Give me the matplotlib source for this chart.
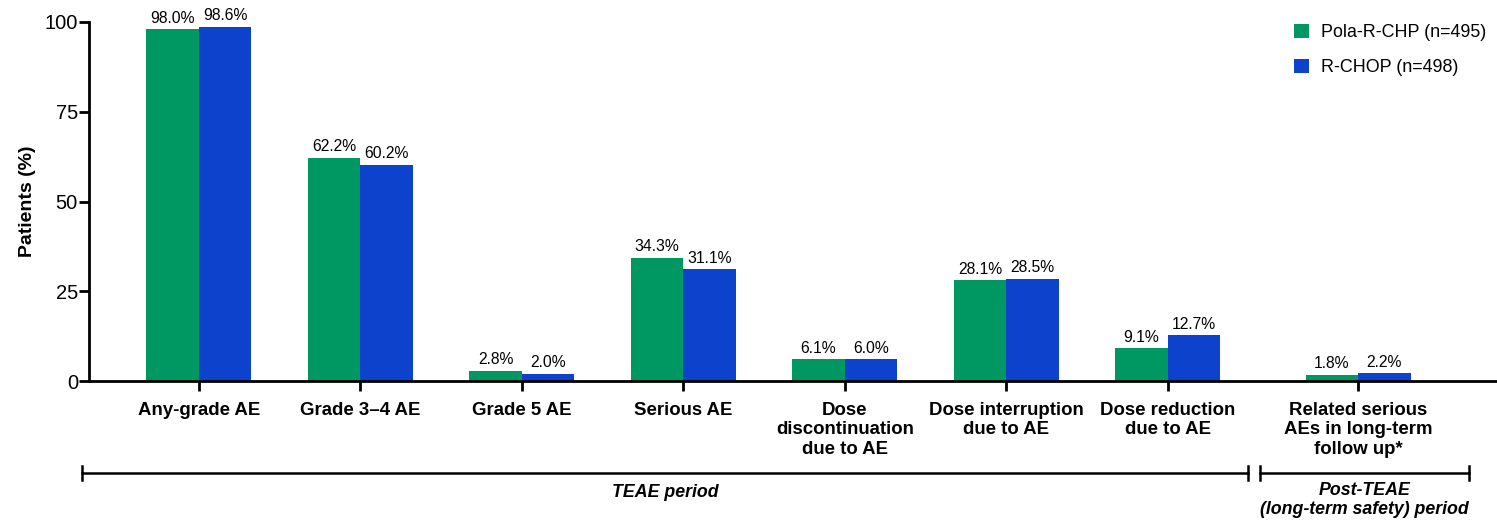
import matplotlib.pyplot as plt
import numpy as np

plt.rcParams['font.family'] = ['Liberation Sans', 'DejaVu Sans']

# Adverse event categories and rates (%)
categories = ['Any-grade AE', 'Grade 3\u20134 AE', 'Grade 5 AE', 'Serious AE',
              'Dose\ndiscontinuation\ndue to AE', 'Dose interruption\ndue to AE',
              'Dose reduction\ndue to AE', 'Related serious\nAEs in long-term\nfollow up*']
pola = [98.0, 62.2, 2.8, 34.3, 6.1, 28.1, 9.1, 1.8]
rchop = [98.6, 60.2, 2.0, 31.1, 6.0, 28.5, 12.7, 2.2]
series_names = ['Pola-R-CHP (n=495)', 'R-CHOP (n=498)']

green = '#009862'
blue = '#0d42cc'

fig = plt.figure(figsize=(14.97, 5.2), dpi=100)
ax = fig.add_axes([0.0595, 0.2673, 0.9405, 0.6904])

# last group sits a little further right (separate period)
x = np.array([0, 1, 2, 3, 4, 5, 6, 7.18])
w = 0.325

b1 = ax.bar(x - w / 2, pola, w, color=green, label=series_names[0])
b2 = ax.bar(x + w / 2, rchop, w, color=blue, label=series_names[1])

for bars, vals in ((b1, pola), (b2, rchop)):
    for bar, v in zip(bars, vals):
        ax.text(bar.get_x() + bar.get_width() / 2, v + 1.0, f'{v:.1f}%',
                ha='center', va='bottom', fontsize=11.3)

ax.set_xlim(-0.68, 8.04)
ax.set_ylim(0, 100)
ax.set_yticks([0, 25, 50, 75, 100])
ax.set_xticks(x)
ax.set_xticklabels(categories, fontsize=13.4, fontweight='bold', linespacing=1.2)
ax.tick_params(axis='both', direction='out', length=7, width=2)
ax.tick_params(axis='y', labelsize=14.5, pad=1)
ax.tick_params(axis='x', pad=8)
ax.set_ylabel('Patients (%)', fontsize=14, fontweight='bold', labelpad=6)

for side in ('top', 'right'):
    ax.spines[side].set_visible(False)
for side in ('left', 'bottom'):
    ax.spines[side].set_linewidth(2)

leg = ax.legend(loc='upper right', bbox_to_anchor=(1.0, 1.025), frameon=False,
                fontsize=12.9, handlelength=0.85, handleheight=0.85,
                handletextpad=0.65, labelspacing=1.0, borderaxespad=0.2)

# period brackets below the category labels
ty = -0.256
cap = 0.02
for x0, x1 in ((-0.005, 0.823), (0.832, 0.980)):
    ax.plot([x0, x1], [ty, ty], color='black', lw=1.8, transform=ax.transAxes, clip_on=False)
    for xe in (x0, x1):
        ax.plot([xe, xe], [ty - cap, ty + cap], color='black', lw=1.8,
                transform=ax.transAxes, clip_on=False)

ax.text(0.409, ty - 0.03, 'TEAE period', ha='center', va='top', fontsize=12.8,
        fontweight='bold', fontstyle='italic', transform=ax.transAxes)
ax.text(0.906, ty - 0.025, 'Post-TEAE\n(long-term safety) period', ha='center', va='top',
        fontsize=12.8, fontweight='bold', fontstyle='italic', linespacing=1.2,
        transform=ax.transAxes)

fig.savefig('out.png', dpi=100)
